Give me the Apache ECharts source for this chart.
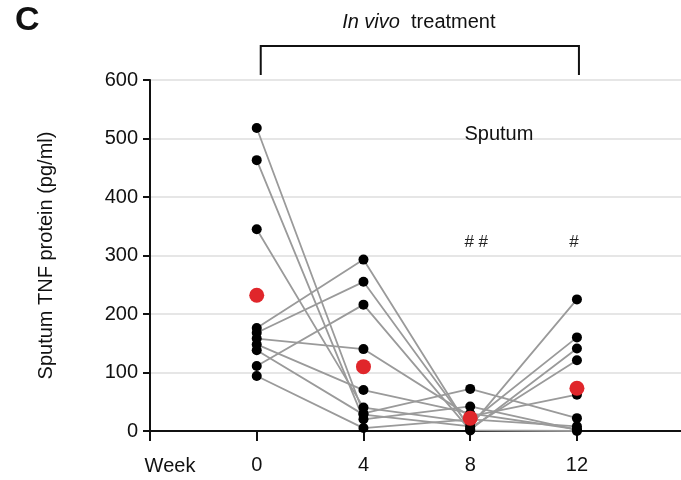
<!DOCTYPE html>
<html><head><meta charset="utf-8">
<script src="https://cdn.jsdelivr.net/npm/echarts@6/dist/echarts.min.js"></script>
<style>html,body{margin:0;padding:0;background:#fff}#c{width:681px;height:480px}</style>
</head><body><div id="c"></div>
<script>
const weeks = [0, 4, 8, 12];
const yTicks = [0, 100, 200, 300, 400, 500, 600];
const patient1 = [518, 30, 72, 22];
const patient2 = [463, 20, 42, 2];
const patient3 = [345, 40, 15, 160];
const patient4 = [176, 293, 2, 141];
const patient5 = [168, 255, 5, 121];
const patient6 = [158, 140, 25, 62];
const patient7 = [148, 70, 30, 3];
const patient8 = [138, 28, 8, 225];
const patient9 = [111, 216, 1, 0];
const patient10 = [94, 5, 20, 8];
const meanValues = [232, 110, 22, 73];
const patients = [patient1, patient2, patient3, patient4, patient5, patient6, patient7, patient8, patient9, patient10];

const FONT = '"Liberation Sans", Arial, sans-serif';
const chart = echarts.init(document.getElementById('c'), null, {renderer: 'canvas'});

const series = patients.map(p => ({
  type: 'line',
  data: weeks.map((w, i) => [w, p[i]]),
  symbol: 'circle',
  symbolSize: 10,
  itemStyle: {color: '#000', opacity: 1},
  lineStyle: {color: '#9a9a9a', width: 1.8},
  z: 2,
  animation: false,
  silent: true
}));
series.push({
  type: 'scatter',
  data: weeks.map((w, i) => [w, meanValues[i]]),
  symbolSize: 15,
  itemStyle: {color: '#e0262b', opacity: 1},
  z: 5,
  animation: false
});

chart.setOption({
  animation: false,
  grid: {left: 150, right: 0, top: 80, bottom: 49},
  xAxis: {
    type: 'value', min: -4, max: 15.9, interval: 4,
    axisLine: {show: true, onZero: false, lineStyle: {color: '#111', width: 2}},
    axisTick: {show: true, length: 10, lineStyle: {color: '#111', width: 2}},
    axisLabel: {show: true, fontFamily: FONT, fontSize: 20, color: '#111', margin: 24,
      showMaxLabel: false,
      formatter: v => v < 0 ? '' : String(v)},
    splitLine: {show: false}
  },
  yAxis: {
    type: 'value', min: 0, max: 600, interval: 100,
    name: 'Sputum TNF protein (pg/ml)', nameLocation: 'middle', nameGap: 94,
    nameTextStyle: {fontFamily: FONT, fontSize: 20, color: '#111'},
    axisLine: {show: true, onZero: false, lineStyle: {color: '#111', width: 2}},
    axisTick: {show: true, length: 7, lineStyle: {color: '#111', width: 2}},
    axisLabel: {fontFamily: FONT, fontSize: 20, color: '#111', margin: 12,
      formatter: v => yTicks.includes(v) ? String(v) : ''},
    splitLine: {show: true, lineStyle: {color: '#e6e6e6', width: 2}}
  },
  series: series
});

const pL = chart.convertToPixel({gridIndex: 0}, [0, 0]);
const pR = chart.convertToPixel({gridIndex: 0}, [12, 0]);
const pAxis = chart.convertToPixel({gridIndex: 0}, [-4, 0]);
const pH8 = chart.convertToPixel({gridIndex: 0}, [8, 310]);
const pH12 = chart.convertToPixel({gridIndex: 0}, [12, 310]);
const pSp = chart.convertToPixel({gridIndex: 0}, [9, 510]);

chart.setOption({
  graphic: [
    {type: 'text', left: 15, top: 4, style: {text: 'C', fontFamily: FONT, fontSize: 34, fontWeight: 'bold', fill: '#111'}},
    {type: 'text', x: (pL[0] + pR[0]) / 2 + 2, y: 22, style: {
      text: '{i|In vivo}  treatment', align: 'center', verticalAlign: 'middle',
      rich: {i: {fontStyle: 'italic', fontFamily: FONT, fontSize: 20, fill: '#111'}},
      fontFamily: FONT, fontSize: 20, fill: '#111'}},
    {type: 'polyline', shape: {points: [[pL[0] + 4, 75], [pL[0] + 4, 46], [pR[0] + 2, 46], [pR[0] + 2, 75]]},
      style: {stroke: '#111', lineWidth: 2, fill: null}},
    {type: 'text', x: pSp[0] + 2, y: pSp[1] + 2, style: {text: 'Sputum', align: 'center', verticalAlign: 'middle', fontFamily: FONT, fontSize: 20, fill: '#111'}},
    {type: 'text', x: pH8[0] + 6, y: pH8[1] - 7, style: {text: '# #', align: 'center', verticalAlign: 'middle', fontFamily: FONT, fontSize: 17, fill: '#222'}},
    {type: 'text', x: pH12[0] - 3, y: pH12[1] - 7, style: {text: '#', align: 'center', verticalAlign: 'middle', fontFamily: FONT, fontSize: 17, fill: '#222'}},
    {type: 'text', x: pAxis[0] + 20, y: 466, style: {text: 'Week', align: 'center', verticalAlign: 'middle', fontFamily: FONT, fontSize: 20, fill: '#111'}}
  ]
});
</script></body></html>
